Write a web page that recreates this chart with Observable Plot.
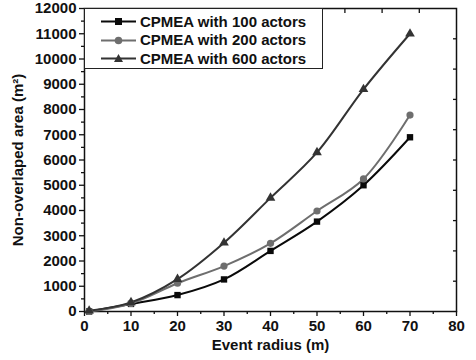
<!DOCTYPE html>
<html><head><meta charset="utf-8">
<script src="https://cdn.jsdelivr.net/npm/d3@7"></script>
<script src="https://cdn.jsdelivr.net/npm/@observablehq/plot@0.6"></script>
<style>
body{margin:0;background:#fff;}
#wrap{position:relative;width:476px;height:360px;font-family:"Liberation Sans",Arial,sans-serif;}
#legend{position:absolute;left:84px;top:8px;width:239px;height:61px;border:1.3px solid #222;box-sizing:border-box;background:#fff;}
.li{position:absolute;left:0;height:18px;display:flex;align-items:center;font-weight:bold;font-size:15px;color:#111;white-space:nowrap;}
.li svg{margin-left:16px;margin-right:4px;}
</style></head>
<body><div id="wrap"><div id="chart"></div><div id="legend"></div></div>
<script>
const radius = [1, 10, 20, 30, 40, 50, 60, 70];
const actors100 = [0, 300, 650, 1270, 2400, 3560, 5000, 6900];
const actors200 = [0, 320, 1120, 1800, 2700, 3980, 5250, 7780];
const actors600 = [30, 360, 1280, 2720, 4500, 6300, 8800, 11000];
const seriesNames = ["CPMEA with 100 actors", "CPMEA with 200 actors", "CPMEA with 600 actors"];
const seriesColors = ["#0a0a0a", "#6e6e6e", "#333333"];
const seriesSymbols = ["square", "circle", "triangle"];
const xTicks = [0, 10, 20, 30, 40, 50, 60, 70, 80];
const yTicks = [0, 1000, 2000, 3000, 4000, 5000, 6000, 7000, 8000, 9000, 10000, 11000, 12000];

const allValues = [actors100, actors200, actors600];
const data = [];
allValues.forEach((vals, s) => radius.forEach((r, i) => data.push({series: seriesNames[s], x: r, y: vals[i]})));

const xMinor = d3.range(5, 80, 10);
const yMinor = d3.range(500, 12000, 1000);
const topTicks = d3.range(8, 80, 8);
const rightTicks = d3.range(1200, 12000, 1200);

const font = '"Liberation Sans", Arial, sans-serif';
const chart = Plot.plot({
  width: 476, height: 360,
  marginLeft: 84, marginRight: 20, marginTop: 8, marginBottom: 49,
  style: {fontFamily: font, fontSize: "15px", fontWeight: "bold", color: "#111", background: "#fff"},
  x: {domain: [0, 80]},
  y: {domain: [0, 12000]},
  color: {domain: seriesNames, range: seriesColors},
  symbol: {domain: seriesNames, range: seriesSymbols},
  marks: [
    Plot.axisX(xTicks, {tickSize: 5, tickPadding: 4, tickFormat: d3.format("d"), label: "Event radius (m)", labelAnchor: "center", labelArrow: "none", labelOffset: 38, strokeWidth: 1.3}),
    Plot.axisX(xMinor, {tickSize: 3, tickFormat: () => "", label: null, strokeWidth: 1.3}),
    Plot.axisY(yTicks, {tickSize: 5, tickPadding: 3, tickFormat: d3.format("d"), label: "Non-overlaped area (m²)", labelAnchor: "center", labelArrow: "none", labelOffset: 72, strokeWidth: 1.3}),
    Plot.axisY(yMinor, {tickSize: 3, tickFormat: () => "", label: null, strokeWidth: 1.3}),
    Plot.axisX(topTicks, {anchor: "top", tickSize: -4, tickFormat: () => "", label: null, strokeWidth: 1.3}),
    Plot.axisY(rightTicks, {anchor: "right", tickSize: -4, tickFormat: () => "", label: null, strokeWidth: 1.3}),
    Plot.frame({stroke: "#111", strokeWidth: 1.5}),
    Plot.line(data, {x: "x", y: "y", z: "series", stroke: "series", strokeWidth: 2, curve: "catmull-rom"}),
    Plot.dot(data, {x: "x", y: "y", symbol: "series", fill: "series", r: 3.6})
  ]
});
document.getElementById("chart").appendChild(chart);

const legend = document.getElementById("legend");
seriesNames.forEach((n, i) => {
  const div = document.createElement("div");
  div.className = "li";
  div.style.top = (3 + i * 18.5) + "px";
  const sym = seriesSymbols[i];
  let shape = "";
  if (sym === "square") shape = `<rect x="14" y="6" width="7" height="7" fill="${seriesColors[i]}"/>`;
  else if (sym === "circle") shape = `<circle cx="17.5" cy="9.5" r="3.8" fill="${seriesColors[i]}"/>`;
  else shape = `<path d="M17.5,5 L22,13 L13,13 Z" fill="${seriesColors[i]}"/>`;
  div.innerHTML = `<svg width="35" height="18"><line x1="0" x2="35" y1="9.5" y2="9.5" stroke="${seriesColors[i]}" stroke-width="2"/>${shape}</svg><span>${n}</span>`;
  legend.appendChild(div);
});
</script></body></html>
